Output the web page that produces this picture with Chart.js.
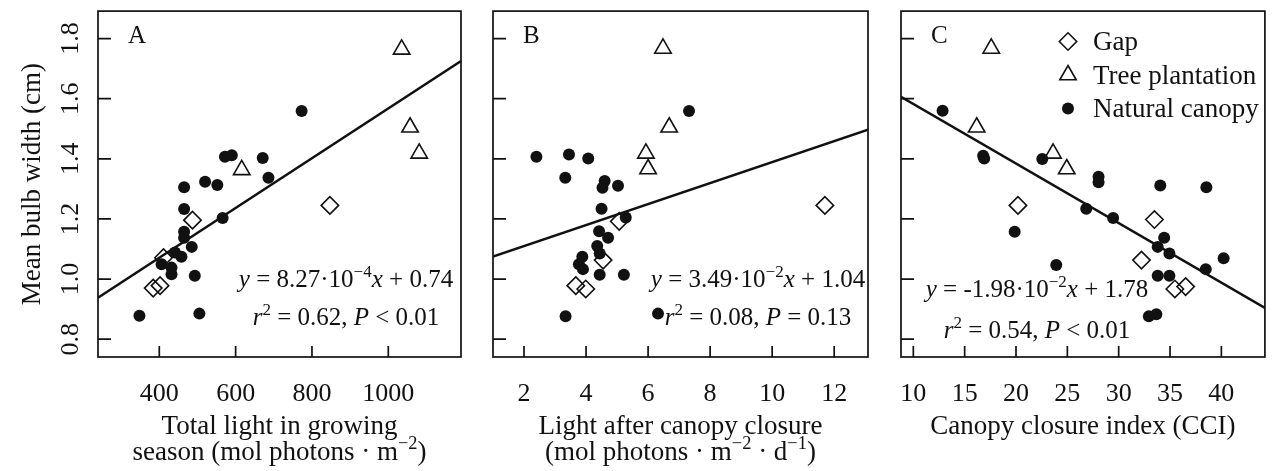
<!DOCTYPE html>
<html>
<head>
<meta charset="utf-8">
<script src="https://cdn.jsdelivr.net/npm/chart.js@4.4.0/dist/chart.umd.min.js"></script>
<style>
html, body { margin: 0; padding: 0; background: #fff; }
#wrap { position: relative; width: 1276px; height: 471px; }
canvas { position: absolute; top: 0; }
</style>
</head>
<body>
<div id="wrap">
	<canvas id="panelA" width="475" height="471" style="left:0px"></canvas>
	<canvas id="panelB" width="405" height="471" style="left:475px"></canvas>
	<canvas id="panelC" width="396" height="471" style="left:880px"></canvas>
</div>
<script>
// tick labels
const yTicks = [0.8, 1.0, 1.2, 1.4, 1.6, 1.8];
const xTicksA = [400, 600, 800, 1000];
const xTicksB = [2, 4, 6, 8, 10, 12];
const xTicksC = [10, 15, 20, 25, 30, 35, 40];

// A: total light in growing season
const gapAx = [384, 402, 411, 487, 847];
const gapAy = [0.970, 0.978, 1.071, 1.196, 1.245];
const treeAx = [1035, 1057, 1081, 616];
const treeAy = [1.764, 1.505, 1.418, 1.363];
const natAx = [348, 505, 441, 458, 406, 432, 432, 485, 465, 465, 493, 465, 465, 520, 552, 566, 572, 590, 671, 686, 773];
const natAy = [0.878, 0.885, 1.088, 1.074, 1.049, 1.038, 1.016, 1.107, 1.157, 1.137, 1.011, 1.305, 1.233, 1.324, 1.313, 1.203, 1.407, 1.412, 1.403, 1.337, 1.559];
const fitAx = [239.4, 1190.5];
const fitAy = [0.938, 1.725];

// B: light after canopy closure
const gapBx = [3.67, 3.99, 4.55, 5.07, 11.70];
const gapBy = [0.978, 0.967, 1.063, 1.192, 1.245];
const treeBx = [6.48, 6.68, 5.93, 6.00];
const treeBy = [1.767, 1.505, 1.418, 1.366];
const natBx = [2.40, 3.45, 4.07, 3.33, 4.60, 4.53, 5.03, 4.50, 5.28, 4.42, 4.71, 4.36, 4.44, 3.88, 3.77, 3.90, 4.44, 5.22, 3.34, 6.32, 7.32];
const natBy = [1.407, 1.414, 1.401, 1.337, 1.326, 1.304, 1.310, 1.234, 1.205, 1.159, 1.137, 1.110, 1.085, 1.074, 1.049, 1.033, 1.014, 1.014, 0.876, 0.885, 1.559];
const fitBx = [1.0, 13.09];
const fitBy = [1.075, 1.497];

// C: canopy closure index
const gapCx = [20.19, 33.48, 32.22, 35.47, 36.52];
const gapCy = [1.245, 1.198, 1.063, 0.967, 0.975];
const treeCx = [17.59, 16.17, 23.61, 24.94];
const treeCy = [1.767, 1.505, 1.418, 1.366];
const natCx = [12.85, 16.80, 16.90, 22.56, 19.87, 23.92, 26.84, 28.04, 28.04, 29.46, 34.05, 38.54, 34.43, 33.80, 34.94, 40.22, 38.48, 33.80, 34.94, 32.94, 33.67];
const natCy = [1.560, 1.410, 1.401, 1.399, 1.157, 1.047, 1.234, 1.340, 1.322, 1.203, 1.311, 1.305, 1.137, 1.107, 1.085, 1.069, 1.033, 1.011, 1.011, 0.876, 0.883];
const fitCx = [8.8, 44.24];
const fitCy = [1.606, 0.904];

const FONT = '"Liberation Serif", "DejaVu Serif", serif';
const INK = '#111';

const zip = (xs, ys) => xs.map((x, i) => ({ x, y: ys[i] }));

// draw a line of text made of runs: [text, style] with style '' | 'i' | 's'
function drawRuns(ctx, runs, cx, y, size) {
	const fontOf = st => (st.includes('i') ? 'italic ' : '') + (st.includes('s') ? size * 0.68 : size) + 'px ' + FONT;
	let total = 0;
	const widths = runs.map(([t, st]) => {
		ctx.font = fontOf(st);
		const w = ctx.measureText(t).width;
		total += w;
		return w;
	});
	let x = cx - total / 2;
	ctx.textAlign = 'left';
	ctx.textBaseline = 'alphabetic';
	runs.forEach(([t, st], i) => {
		ctx.font = fontOf(st);
		ctx.fillText(t, x, st.includes('s') ? y - size * 0.4 : y);
		x += widths[i];
	});
}

const panelDecor = {
	id: 'panelDecor',
	afterDraw(chart, args, o) {
		const { ctx, chartArea: a, scales: { x, y } } = chart;
		ctx.save();
		ctx.strokeStyle = INK;
		ctx.fillStyle = INK;
		ctx.lineWidth = 1.7;
		ctx.strokeRect(a.left, a.top, a.right - a.left, a.bottom - a.top);

		// inward ticks
		ctx.beginPath();
		x.ticks.forEach(t => {
			const px = x.getPixelForValue(t.value);
			ctx.moveTo(px, a.bottom);
			ctx.lineTo(px, a.bottom - 11);
		});
		y.ticks.forEach(t => {
			const py = y.getPixelForValue(t.value);
			ctx.moveTo(a.left, py);
			ctx.lineTo(a.left + 13, py);
		});
		ctx.stroke();

		ctx.font = '26px ' + FONT;
		ctx.textAlign = 'center';
		ctx.textBaseline = 'alphabetic';
		x.ticks.forEach(t => ctx.fillText(String(t.value), x.getPixelForValue(t.value), 401));

		if (o.yTitle) {
			y.ticks.forEach(t => {
				ctx.save();
				ctx.translate(78, y.getPixelForValue(t.value));
				ctx.rotate(-Math.PI / 2);
				ctx.fillText(t.value.toFixed(1), 0, 0);
				ctx.restore();
			});
			ctx.save();
			ctx.font = '27px ' + FONT;
			ctx.translate(40, (a.top + a.bottom) / 2);
			ctx.rotate(-Math.PI / 2);
			ctx.fillText(o.yTitle, 0, 0);
			ctx.restore();
		}

		o.xTitle.forEach((runs, i) => drawRuns(ctx, runs, (a.left + a.right) / 2, 434 + 26 * i, 27));

		ctx.font = '25px ' + FONT;
		ctx.textAlign = 'left';
		ctx.fillText(o.letter, a.left + 30, 43);

		o.eq.forEach((runs, i) => drawRuns(ctx, runs, o.eqX, o.eqY[i], 25));

		if (o.legend) {
			const order = [2, 1, 0];
			order.forEach((di, row) => {
				const ds = chart.data.datasets[di];
				const base = 50 + row * 33.5;
				ctx.save();
				ctx.fillStyle = ds.backgroundColor;
				ctx.strokeStyle = ds.borderColor;
				ctx.lineWidth = ds.borderWidth;
				Chart.helpers.drawPoint(ctx, { pointStyle: ds.pointStyle, radius: ds.pointRadius, borderWidth: ds.borderWidth, rotation: 0 }, a.left + 167, base - 8.5);
				ctx.restore();
				ctx.font = '27px ' + FONT;
				ctx.textAlign = 'left';
				ctx.fillText(ds.label, a.left + 192, base);
			});
		}
		ctx.restore();
	}
};

function makePanel(id, p) {
	return new Chart(document.getElementById(id), {
		type: 'scatter',
		data: {
			datasets: [
				{ label: 'Natural canopy', data: zip(p.natX, p.natY), pointStyle: 'circle', pointRadius: 6,
					backgroundColor: INK, borderColor: INK, borderWidth: 0, order: 1 },
				{ label: 'Tree plantation', data: zip(p.treeX, p.treeY), pointStyle: 'triangle', pointRadius: 9.5,
					backgroundColor: 'rgba(0,0,0,0)', borderColor: INK, borderWidth: 1.6, order: 2 },
				{ label: 'Gap', data: zip(p.gapX, p.gapY), pointStyle: 'rectRot', pointRadius: 8.7,
					backgroundColor: 'rgba(0,0,0,0)', borderColor: INK, borderWidth: 1.6, order: 3 },
				{ label: 'fit', type: 'line', data: zip(p.fitX, p.fitY), showLine: true, pointRadius: 0,
					borderColor: INK, borderWidth: 2.4, fill: false, order: 4 }
			]
		},
		options: {
			responsive: false,
			animation: false,
			events: [],
			layout: { padding: { left: 0, right: p.padR, top: 8, bottom: 0 } },
			plugins: { legend: { display: false }, tooltip: { enabled: false }, panelDecor: p.decor },
			scales: {
				x: {
					type: 'linear', min: p.xMin, max: p.xMax,
					grid: { display: false }, border: { display: false }, ticks: { display: false },
					afterBuildTicks: s => { s.ticks = p.xTicks.map(v => ({ value: v })); },
					afterFit: s => { s.height = 114; }
				},
				y: {
					type: 'linear', min: 0.7407, max: 1.8913,
					grid: { display: false }, border: { display: false }, ticks: { display: false },
					afterBuildTicks: s => { s.ticks = yTicks.map(v => ({ value: v })); },
					afterFit: s => { s.width = p.yw; }
				}
			}
		},
		plugins: [panelDecor]
	});
}

makePanel('panelA', {
	natX: natAx, natY: natAy, treeX: treeAx, treeY: treeAy, gapX: gapAx, gapY: gapAy, fitX: fitAx, fitY: fitAy,
	xMin: 239.4, xMax: 1190.5, xTicks: xTicksA, yw: 98, padR: 14,
	decor: {
		letter: 'A',
		yTitle: 'Mean bulb width (cm)',
		xTitle: [[['Total light in growing', '']], [['season (mol photons \u00b7 m', ''], ['\u22122', 's'], [')', '']]],
		eqX: 346, eqY: [287, 325],
		eq: [
			[['y', 'i'], [' = 8.27\u00b710', ''], ['\u22124', 's'], ['x', 'i'], [' + 0.74', '']],
			[['r', 'i'], ['2', 's'], [' = 0.62, ', ''], ['P', 'i'], [' < 0.01', '']]
		]
	}
});

makePanel('panelB', {
	natX: natBx, natY: natBy, treeX: treeBx, treeY: treeBy, gapX: gapBx, gapY: gapBy, fitX: fitBx, fitY: fitBy,
	xMin: 1.0, xMax: 13.09, xTicks: xTicksB, yw: 18, padR: 12,
	decor: {
		letter: 'B',
		xTitle: [[['Light after canopy closure', '']], [['(mol photons \u00b7 m', ''], ['\u22122', 's'], [' \u00b7 d', ''], ['\u22121', 's'], [')', '']]],
		eqX: 283, eqY: [287, 325],
		eq: [
			[['y', 'i'], [' = 3.49\u00b710', ''], ['\u22122', 's'], ['x', 'i'], [' + 1.04', '']],
			[['r', 'i'], ['2', 's'], [' = 0.08, ', ''], ['P', 'i'], [' = 0.13', '']]
		]
	}
});

makePanel('panelC', {
	natX: natCx, natY: natCy, treeX: treeCx, treeY: treeCy, gapX: gapCx, gapY: gapCy, fitX: fitCx, fitY: fitCy,
	xMin: 8.8, xMax: 44.24, xTicks: xTicksC, yw: 21, padR: 2,
	decor: {
		letter: 'C',
		legend: true,
		xTitle: [[['Canopy closure index (CCI)', '']]],
		eqX: 157, eqY: [297, 338],
		eq: [
			[['y', 'i'], [' = -1.98\u00b710', ''], ['\u22122', 's'], ['x', 'i'], [' + 1.78', '']],
			[['r', 'i'], ['2', 's'], [' = 0.54, ', ''], ['P', 'i'], [' < 0.01', '']]
		]
	}
});
</script>
</body>
</html>
